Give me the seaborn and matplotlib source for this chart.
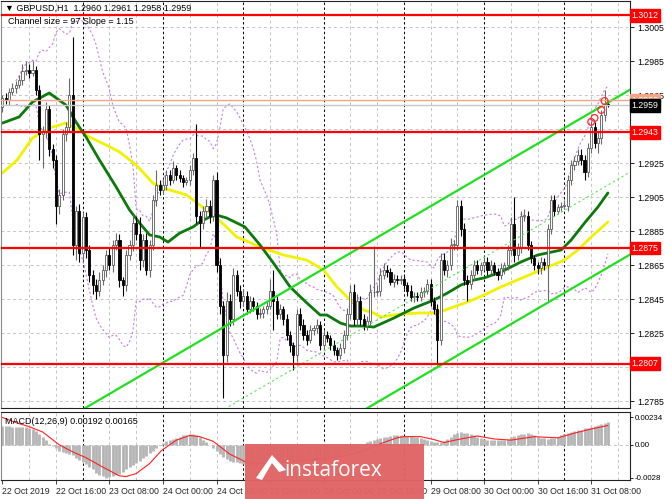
import numpy as np
import pandas as pd
import matplotlib
matplotlib.use("Agg")
import matplotlib.pyplot as plt
import matplotlib.transforms as mtransforms
from matplotlib.patches import Rectangle, Polygon
import seaborn as sns

sns.set_style("white")
plt.rcParams['font.family'] = ['Liberation Sans', 'DejaVu Sans']

# ---------------- data ----------------
first_open = 1.2958
closes = [
    1.2963, 1.2962, 1.2967, 1.2969, 1.2971, 1.2974, 1.2979, 1.2980, 1.2978, 1.2980,
    1.2968, 1.2942, 1.2944, 1.2957, 1.2933, 1.2927, 1.2900, 1.2906, 1.2942, 1.2946,
    1.2965, 1.2877, 1.2897, 1.2872, 1.2893, 1.2874, 1.2859, 1.2853, 1.2850, 1.2856,
    1.2862, 1.2871, 1.2865, 1.2877, 1.2880, 1.2856, 1.2853, 1.2871, 1.2877, 1.2890,
    1.2883, 1.2868, 1.2880, 1.2862, 1.2877, 1.2903, 1.2912, 1.2909, 1.2912, 1.2918,
    1.2915, 1.2922, 1.2918, 1.2916, 1.2914, 1.2915, 1.2921, 1.2928, 1.2894, 1.2890,
    1.2897, 1.2900, 1.2894, 1.2915, 1.2865, 1.2841, 1.2812, 1.2844, 1.2833, 1.2859,
    1.2850, 1.2844, 1.2847, 1.2839, 1.2844, 1.2841, 1.2836, 1.2837, 1.2839, 1.2841,
    1.2850, 1.2844, 1.2836, 1.2839, 1.2833, 1.2824, 1.2818, 1.2812, 1.2836, 1.2830,
    1.2824, 1.2821, 1.2827, 1.2828, 1.2830, 1.2818, 1.2824, 1.2822, 1.2818, 1.2815,
    1.2812, 1.2816, 1.2824, 1.2836, 1.2849, 1.2833, 1.2844, 1.2833, 1.2830, 1.2832,
    1.2849, 1.2849, 1.2850, 1.2859, 1.2862, 1.2861, 1.2855, 1.2857, 1.2856, 1.2857,
    1.2853, 1.2850, 1.2846, 1.2847, 1.2846, 1.2849, 1.2850, 1.2854, 1.2844, 1.2839,
    1.2821, 1.2868, 1.2862, 1.2865, 1.2877, 1.2877, 1.2900, 1.2886, 1.2856, 1.2854,
    1.2859, 1.2865, 1.2862, 1.2865, 1.2867, 1.2862, 1.2865, 1.2861, 1.2859, 1.2863,
    1.2865, 1.2874, 1.2889, 1.2871, 1.2875, 1.2894, 1.2894, 1.2877, 1.2869, 1.2865,
    1.2863, 1.2867, 1.2865, 1.2886, 1.2903, 1.2897, 1.2899, 1.2900, 1.2900, 1.2915,
    1.2924, 1.2926, 1.2930, 1.2927, 1.2920, 1.2934, 1.2946, 1.2937, 1.2940, 1.2953,
    1.2960, 1.2959,
]
wick_up_pips = [
    2, 3, 2, 3, 2, 3, 4, 5, 3, 5,
    2, 3, 3, 4, 2, 3, 3, 4, 3, 3,
    10, 34, 3, 4, 3, 3, 3, 3, 4, 5,
    3, 3, 4, 3, 4, 3, 2, 3, 3, 5,
    4, 10, 3, 4, 3, 3, 9, 3, 3, 3,
    3, 4, 2, 3, 2, 2, 3, 3, 20, 3,
    3, 4, 3, 3, 5, 4, 3, 5, 4, 4,
    3, 3, 4, 3, 3, 2, 2, 3, 2, 3,
    7, 12, 3, 3, 2, 3, 2, 2, 3, 4,
    3, 3, 3, 2, 3, 2, 3, 2, 2, 3,
    2, 3, 3, 4, 4, 5, 4, 3, 3, 3,
    5, 27, 3, 4, 4, 3, 2, 3, 2, 2,
    3, 2, 3, 2, 2, 3, 2, 3, 3, 2,
    3, 4, 4, 3, 4, 3, 3, 3, 4, 3,
    3, 3, 3, 2, 3, 3, 3, 2, 2, 3,
    2, 3, 4, 16, 3, 3, 4, 3, 2, 2,
    2, 3, 2, 3, 3, 3, 2, 2, 3, 3,
    3, 3, 3, 3, 3, 3, 4, 3, 3, 3,
    8, 1,
]
wick_dn_pips = [
    3, 2, 3, 2, 3, 2, 3, 2, 3, 2,
    3, 15, 20, 4, 4, 5, 11, 5, 3, 4,
    3, 6, 9, 5, 4, 5, 4, 5, 5, 3,
    3, 4, 3, 4, 3, 4, 6, 3, 3, 4,
    3, 6, 4, 3, 4, 3, 3, 3, 2, 3,
    3, 2, 3, 2, 3, 2, 3, 3, 4, 15,
    4, 4, 4, 3, 4, 5, 25, 4, 4, 3,
    3, 4, 3, 3, 2, 3, 3, 2, 3, 3,
    2, 17, 3, 3, 3, 3, 4, 9, 4, 3,
    3, 3, 2, 3, 3, 3, 3, 2, 3, 3,
    3, 2, 3, 3, 3, 3, 4, 3, 3, 3,
    3, 3, 2, 3, 2, 3, 2, 3, 2, 2,
    2, 3, 2, 3, 2, 2, 3, 2, 3, 3,
    15, 3, 3, 4, 3, 3, 3, 4, 3, 10,
    3, 3, 2, 3, 3, 3, 2, 2, 3, 2,
    3, 3, 3, 4, 3, 3, 3, 3, 3, 3,
    3, 3, 3, 21, 3, 3, 2, 2, 2, 3,
    3, 3, 2, 3, 5, 3, 3, 3, 6, 4,
    3, 1,
]

# moving averages (bar index, price)
ma_green_bars = [0, 5, 9, 14, 19, 22, 25, 29, 34, 38, 41, 44, 47, 49.5, 53, 57, 59, 62, 64, 67,
                 72.5, 77, 81, 86, 91, 95, 97, 101, 104, 108, 111, 117, 123, 129, 133, 137, 141,
                 144, 149, 155, 160, 167, 170, 174, 178, 181]
ma_green_vals = [1.29485, 1.29521, 1.29609, 1.29662, 1.29591, 1.29491, 1.29403, 1.29268, 1.29109,
                 1.28974, 1.28897, 1.28827, 1.28815, 1.28785, 1.28838, 1.28874, 1.28903, 1.28933,
                 1.28944, 1.28927, 1.28874, 1.28768, 1.28662, 1.28521, 1.28427, 1.28356, 1.28356,
                 1.28309, 1.28291, 1.28291, 1.28285, 1.28338, 1.28397, 1.28444, 1.28485, 1.28532,
                 1.28562, 1.28574, 1.28609, 1.28668, 1.28709, 1.28738, 1.28797, 1.28897, 1.28991,
                 1.29074]
ma_yellow_bars = [0, 4.4, 9, 14, 19, 23, 26, 31, 35, 40, 45, 48, 52, 55, 59, 63, 67, 70, 73, 77,
                  84, 91, 96, 100, 104, 108, 111, 113, 119, 125, 130, 134, 139, 144, 149, 156,
                  163, 168, 172, 176, 181]
ma_yellow_vals = [1.29191, 1.29268, 1.29397, 1.29456, 1.29485, 1.29444, 1.29403, 1.29356, 1.29315,
                  1.29238, 1.29132, 1.29103, 1.29080, 1.29062, 1.29003, 1.28944, 1.28874, 1.28815,
                  1.28791, 1.28756, 1.28709, 1.28679, 1.28621, 1.28521, 1.28444, 1.28385, 1.28368,
                  1.28344, 1.28362, 1.28368, 1.28368, 1.28397, 1.28432, 1.28474, 1.28521, 1.28579,
                  1.28638, 1.28679, 1.28738, 1.28815, 1.28903]

# MACD main (x1e-4) per bar
macd_main = [
    16, 16, 15.8, 15.6, 15.5, 15.5, 15.2, 14.8, 14.2, 13.4,
    11.5, 9, 6.5, 4, 1, -1, -3, -5, -6, -7,
    -7.5, -9, -11, -13, -14.5, -16, -18.5, -21, -24, -25.5,
    -27, -28, -27.8, -27, -25.5, -24.5, -23, -21, -19, -17.5,
    -15.5, -14, -11.5, -9.5, -7, -5, -2.5, 0, 1.5, 3,
    4, 5, 6, 7, 8, 8.5, 9, 9, 8, 7,
    4.5, 2, 0, -2.5, -5, -7.5, -10, -12, -14, -14.5,
    -15, -15.5, -16, -16.5, -17, -17, -17, -16.8, -16.5, -16,
    -15.5, -15.5, -15.2, -15, -15, -14.8, -14.6, -14.4, -14.2, -14,
    -13.8, -13.6, -13.2, -12.8, -12.4, -12, -11.4, -10.8, -10.2, -9.6,
    -9, -8, -7, -5.5, -4, -2.5, -2, -0.5, 1, 2,
    3, 4, 5, 6, 6.5, 7, 7.5, 8, 8, 8,
    7.8, 7.6, 7.4, 7, 6.5, 6, 5, 4, 3, 2.5,
    2, 2, 3, 5, 7, 9, 10.5, 11, 10.5, 10,
    9, 8, 6.5, 5.5, 5, 4.5, 4, 4, 4, 4,
    4, 5, 6.5, 7.5, 8, 9, 9.5, 10, 9, 8,
    7, 6, 5.5, 5, 5.5, 6, 7, 8, 9, 10,
    11, 12, 12.5, 13, 14, 14.5, 15.5, 16, 17, 18,
    18.5, 19.2,
]
signal_bars = [0, 4, 8, 12, 17, 21, 25, 30, 35, 37, 40, 44, 47.5, 52, 56, 59, 63, 68, 73, 76, 82,
               88, 96, 103, 108, 113, 118, 120, 125, 129, 132, 137, 142, 147, 152, 159, 162, 166,
               171, 176, 181]
signal_vals = [23.4, 19, 15.5, 11, 0, -6, -11, -19, -26.5, -27, -24.5, -16, -5, 4, 8, 7, 3, -8,
               -15, -16, -15, -14, -12, -9, -5, 1, 6, 7, 7, 4.5, 2, 5, 7.5, 5, 4, 7, 6.5, 6, 10,
               13.5, 16.5]

levels = [1.3012, 1.2943, 1.2875, 1.2807]
ask_price = 1.2962
bid_price = 1.2959
channel_bars = [0, 188]
channel_upper = [1.27524, 1.29686]
channel_middle = [1.27039, 1.29201]
channel_lower = [1.26554, 1.28716]
marker_bars = [176, 177, 179, 180]
marker_prices = [1.29492, 1.29515, 1.29562, 1.29615]

price_ticks = [1.2785, 1.2805, 1.2825, 1.2845, 1.2865, 1.2885, 1.2905, 1.2925, 1.2945,
               1.2965, 1.2985, 1.3005]
hidden_ticks = [1.2805, 1.2945]   # covered by level boxes in the original
macd_ticks = [0.00234, 0.0, -0.0028]
macd_tick_labels = ["0.00234", "0.00", "-0.0028"]
time_tick_bars = [0, 16, 32, 48, 64, 80, 96, 112, 128, 144, 160, 176]
time_tick_labels = ["22 Oct 2019", "22 Oct 16:00", "23 Oct 08:00", "24 Oct 00:00",
                    "24 Oct 16:00", "25 Oct 08:00", "28 Oct 00:00", "28 Oct 16:00",
                    "29 Oct 08:00", "30 Oct 00:00", "30 Oct 16:00", "31 Oct 08:00"]
day_bars = [24, 48, 72, 96, 120, 144, 168]

# ---------------- derived frame ----------------
n = len(closes)
idx = np.arange(n)
df = pd.DataFrame({"bar": idx, "close": closes})
df["open"] = [first_open] + closes[:-1]
df["high"] = np.maximum(df.open, df.close) + np.array(wick_up_pips) * 1e-4
df["low"] = np.minimum(df.open, df.close) - np.array(wick_dn_pips) * 1e-4
roll = df.close.rolling(20, min_periods=5)
df["bb_up"] = roll.mean() + 2 * roll.std(ddof=0)
df["bb_dn"] = roll.mean() - 2 * roll.std(ddof=0)

# ---------------- figure ----------------
W, H = 665, 499
fig = plt.figure(figsize=(W / 100, H / 100), dpi=100)
fig.patch.set_facecolor("white")


def fx(px):
    return px / W


def fy(py):
    return 1 - py / H


ax = fig.add_axes([fx(1), fy(408), fx(630) - fx(1), fy(1) - fy(408)])
ax2 = fig.add_axes([fx(1), fy(480), fx(630) - fx(1), fy(412) - fy(480)])

XL = (-0.42, 187.6)
ax.set_xlim(*XL)
ax.set_ylim(1.27809, 1.30203)

grid_c = "#c4c4c4"
for a in (ax, ax2):
    for b in range(8, 188, 8):
        if b % 24 == 0:
            continue
        a.axvline(b, color=grid_c, lw=0.7, ls=(0, (3, 3)), zorder=0.5)
    for b in day_bars:
        a.axvline(b, color="#000000", lw=0.7, ls=(0, (2.5, 2.5)), zorder=0.6)
for p in price_ticks:
    ax.axhline(p, color=grid_c, lw=0.7, ls=(0, (3, 3)), zorder=0.5)
ax2.axhline(0, color=grid_c, lw=0.7, ls=(0, (3, 3)), zorder=0.5)

# Bollinger style envelopes
sns.lineplot(x=df.bar, y=df.bb_up, ax=ax, color="#c77de6", lw=0.8, ls=(0, (2, 2)), zorder=1)
sns.lineplot(x=df.bar, y=df.bb_dn, ax=ax, color="#c77de6", lw=0.8, ls=(0, (2, 2)), zorder=1)

# moving averages
sns.lineplot(x=ma_yellow_bars, y=ma_yellow_vals, ax=ax, color="#f2f200", lw=2.0, zorder=2)
sns.lineplot(x=ma_green_bars, y=ma_green_vals, ax=ax, color="#0b7a0b", lw=2.0, zorder=2.1)

# candles
bull = df.close >= df.open
wick_cols = np.where(bull, "#6a6a6a", "#000000")
ax.vlines(df.bar, df.low, df.high, colors=wick_cols, lw=0.8, zorder=3)
body_h = np.maximum((df.close - df.open).abs(), 0.00004)
ax.bar(df.bar, body_h, bottom=np.minimum(df.open, df.close), width=0.62,
       color=np.where(bull, "#ffffff", "#000000"),
       edgecolor=np.where(bull, "#5a5a5a", "#000000"), linewidth=0.6, zorder=3.1)

# channel
sns.lineplot(x=channel_bars, y=channel_upper, ax=ax, color="#1fe01f", lw=1.6, zorder=4)
sns.lineplot(x=channel_bars, y=channel_lower, ax=ax, color="#1fe01f", lw=1.6, zorder=4)
sns.lineplot(x=channel_bars, y=channel_middle, ax=ax, color="#55e855", lw=0.8,
             ls=(0, (2, 2.5)), zorder=4)

# levels
for lv in levels:
    ax.axhline(lv, color="#ff0000", lw=1.6, zorder=4.5)
ax.axhline(ask_price, color="#f4a487", lw=1.0, zorder=4.4)
ax.axhline(bid_price, color="#c8c8c8", lw=1.0, zorder=4.4)

ax.scatter(marker_bars, marker_prices, s=24, facecolors="none", edgecolors="#ff2a2a",
           linewidths=0.9, zorder=5)

# MACD: histogram + signal
macd = np.array(macd_main) * 1e-4
ax2.vlines(idx, 0, macd, colors="#b4b4b4", lw=2.0, zorder=2)
sns.lineplot(x=signal_bars, y=np.array(signal_vals) * 1e-4, ax=ax2, color="#ff2020", lw=0.8,
             zorder=3)
ax2.set_xlim(*XL)
ax2.set_ylim(-0.0030, 0.0028)

# axes styling
lab_fs = 6.3
for a in (ax, ax2):
    a.yaxis.tick_right()
    a.tick_params(axis="y", which="both", length=3, width=0.6, labelsize=lab_fs, pad=2,
                  colors="black", right=True, left=False)
    for s in a.spines.values():
        s.set_color("#222222")
        s.set_linewidth(0.8)
    a.spines["left"].set_color("#8a8a8a")
ax.set_yticks(price_ticks)
ax.set_yticklabels(["" if p in hidden_ticks else f"{p:.4f}" for p in price_ticks])
ax.tick_params(axis="x", which="both", bottom=False, labelbottom=False)
ax.set_xlabel("")
ax.set_ylabel("")

ax2.set_yticks(macd_ticks)
ax2.set_yticklabels(macd_tick_labels)
ax2.tick_params(axis="y", labelsize=5.7, pad=1.0, length=2.5)
ax2.set_xticks(time_tick_bars)
ax2.set_xticklabels(time_tick_labels)
ax2.tick_params(axis="x", length=3, width=0.6, labelsize=lab_fs, pad=2, bottom=True)
for t in ax2.get_xticklabels():
    t.set_ha("left")
ax2.set_xlabel("")
ax2.set_ylabel("")

# price label boxes on the right axis
trans = mtransforms.blended_transform_factory(ax.transAxes, ax.transData)


def price_box(price, fc, tc="white"):
    ax.text(1.0025, price, f"{price:.4f}", transform=trans, fontsize=lab_fs, color=tc,
            ha="left", va="center", clip_on=False, zorder=20,
            bbox=dict(boxstyle="square,pad=0.22", fc=fc, ec=fc))


for lv in levels:
    price_box(lv, "#ff0000")
price_box(ask_price, "#f4a487")
price_box(bid_price, "#000000")

# header texts
fig.text(fx(5), fy(8), "\u25bc GBPUSD,H1  1.2960 1.2961 1.2958 1.2959", fontsize=6.5,
         ha="left", va="center", color="black")
fig.text(fx(8), fy(21), "Channel size = 97 Slope = 1.15", fontsize=6.5, ha="left",
         va="center", color="black")
fig.text(fx(5), fy(421), "MACD(12,26,9) 0.00192 0.00165", fontsize=6.5, ha="left",
         va="center", color="black")

# watermark
fig.patches.append(Rectangle((fx(245), fy(499)), fx(424) - fx(245), fy(444) - fy(499),
                             transform=fig.transFigure, fc="#e16464", ec="none", alpha=0.97,
                             zorder=30))
fig.patches.append(Polygon([(fx(256), fy(478)), (fx(272), fy(455)), (fx(286), fy(470)),
                            (fx(279), fy(472)), (fx(272), fy(463)), (fx(262), fy(480))],
                           closed=True, transform=fig.transFigure, fc="white", ec="none",
                           zorder=31))
fig.text(fx(333), fy(470), "instaforex", fontsize=15, color="white", ha="center",
         va="center", family="Open Sans", zorder=32)

fig.savefig("out.png", dpi=100)
